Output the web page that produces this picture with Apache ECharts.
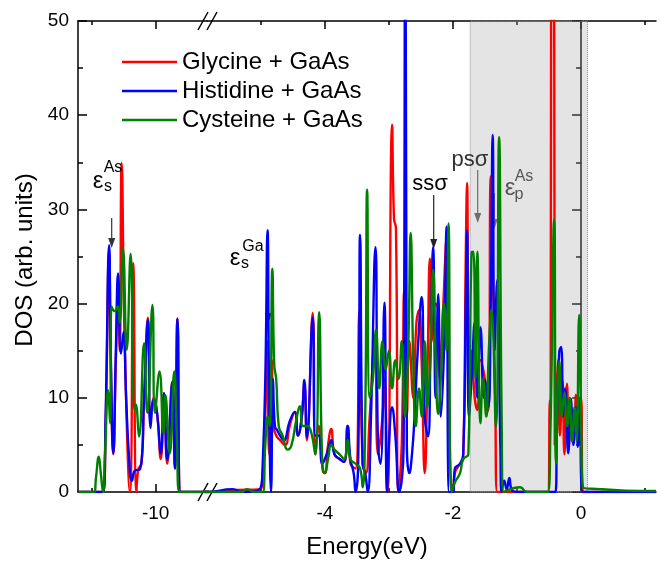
<!DOCTYPE html>
<html>
<head>
<meta charset="utf-8">
<script src="https://cdn.jsdelivr.net/npm/echarts@6/dist/echarts.min.js"></script>
<style>
  html, body { margin: 0; padding: 0; background: #fff; }
  #chart { width: 662px; height: 561px; }
</style>
</head>
<body>
<div id="chart"></div>
<script>
// DOS data (energy in eV, DOS in arb. units)
const seriesNames = ['Glycine + GaAs', 'Histidine + GaAs', 'Cysteine + GaAs']

const glycineE = [
  -11.2, -10.82, -10.78, -10.725, -10.70, -10.66, -10.62, -10.585, -10.56, -10.53, -10.48, -10.40, -10.35, -10.30,
  -10.27, -10.22, -10.18, -10.12, -10.08, -10.03, -9.98, -9.92, -9.87, -9.82, -9.74, -9.70, -9.66, -9.61, -9.2,
  -5.84, -5.44, -5.0, -4.97, -4.93, -4.90, -4.87, -4.83, -4.80, -4.76, -4.70, -4.62, -4.55, -4.47, -4.42, -4.36,
  -4.32, -4.28, -4.19, -4.145, -4.10, -4.03, -4.00, -3.95, -3.90, -3.85, -3.77, -3.70, -3.645, -3.60, -3.52, -3.46,
  -3.41, -3.36, -3.30, -3.22, -3.17, -3.10, -3.07, -3.02, -2.95, -2.92, -2.89, -2.85, -2.80, -2.76, -2.72, -2.68,
  -2.62, -2.57, -2.53, -2.49, -2.44, -2.40, -2.36, -2.33, -2.27, -2.23, -2.20, -2.15, -2.10, -2.06, -2.03, -2.0,
  -1.97, -1.89, -1.84, -1.80, -1.78, -1.75, -1.71, -1.66, -1.62, -1.57, -1.50, -1.45, -1.41, -1.38, -1.34, -1.31,
  -1.0, -0.52, -0.485, -0.475, -0.455, -0.43, -0.41, -0.36, -0.33, -0.29, -0.26, -0.22, -0.19, -0.15, -0.11, -0.08,
  -0.04, 0.0, 0.03, 1.17
]
const glycineDos = [
  0, 0, 7, 25.5, 14, 4, 14, 22, 15, 34.9, 15, 0, 24.3, 0,
  2.4, 3, 10, 18.5, 7.5, 10, 8.5, 3.5, 10.5, 3, 11.7, 2.5, 18.4, 0, 0,
  0, 0.2, 0.3, 2, 8, 16, 4, 14, 7, 6, 5.5, 5, 7, 8.5, 6, 8,
  11.5, 5.5, 19, 4, 7, 2.2, 2, 5, 6.7, 4, 3.5, 3.2, 7, 3, 2.5, 19.3,
  3, 2, 8, 16, 4, 8, 12, 0, 39.0, 29, 28, 0, 5, 21.5, 8, 16,
  10, 18, 19.3, 14, 2, 12, 24.8, 16, 20, 19.3, 12, 20, 27, 10, 0.5, 0,
  2, 3, 3.5, 25, 32.8, 10, 15, 10, 8.7, 14, 11.9, 8.6, 33.5, 25, 10, 0,
  0, 0, 9.8, 8, 100, 100, 5, 14, 6, 11.9, 4, 11.5, 5, 9, 7, 10.3,
  5, 10, 0, 0
]

const histidineE = [
  -11.2, -10.82, -10.78, -10.725, -10.70, -10.66, -10.62, -10.585, -10.54, -10.50, -10.46, -10.41, -10.37, -10.32,
  -10.245, -10.18, -10.12, -10.08, -10.03, -9.98, -9.92, -9.87, -9.82, -9.74, -9.70, -9.66, -9.61, -9.2,
  -5.84, -5.44, -5.3, -5.0, -4.97, -4.93, -4.895, -4.87, -4.84, -4.81, -4.78, -4.74, -4.70, -4.64, -4.55, -4.47,
  -4.42, -4.36, -4.32, -4.28, -4.19, -4.15, -4.10, -4.04, -4.00, -3.95, -3.90, -3.85, -3.77, -3.70, -3.645, -3.60,
  -3.55, -3.52, -3.48, -3.45, -3.41, -3.37, -3.33, -3.28, -3.21, -3.17, -3.13, -3.07, -3.03, -3.0, -2.95, -2.90,
  -2.84, -2.77, -2.745, -2.72, -2.68, -2.64, -2.60, -2.55, -2.49, -2.44, -2.39, -2.35, -2.31, -2.27, -2.23, -2.19,
  -2.14, -2.10, -2.06, -2.0, -1.97, -1.89, -1.84, -1.80, -1.78, -1.75, -1.71, -1.66, -1.62, -1.57, -1.52, -1.50,
  -1.45, -1.41, -1.38, -1.35, -1.31, -1.26, -1.24, -1.20, -1.16, -1.12, -1.08, -1.0, -0.40, -0.375, -0.34, -0.31,
  -0.28, -0.25, -0.20, -0.16, -0.12, -0.08, -0.05, -0.02, 0.02, 1.17
]
const histidineDos = [
  0, 0, 8, 26.2, 15, 4.1, 15, 23.2, 14.7, 17.0, 10, 3.2, 1.2, 2.3,
  2.4, 10, 18.3, 6.8, 9.8, 8.5, 4.1, 10.5, 3.4, 11.7, 2.5, 18.4, 0, 0,
  0, 0.3, 0, 0.5, 3, 12, 27.8, 10, 0, 12, 7, 6.5, 6, 5.5, 7.5, 8.5,
  6, 8, 11.9, 5.8, 18.5, 6, 6, 3, 3.5, 4.5, 5.5, 4, 3.5, 3.2, 7, 3.5,
  2, 0, 3, 27.3, 3, 2, 0, 8, 26.0, 5, 3, 20.1, 0, 5, 9, 6,
  0, 5, 70, 5, 2, 4, 8, 15, 20.7, 8, 5.9, 15, 26.0, 10, 21, 8,
  15, 28.2, 0, 0, 2.5, 3, 4, 20, 27.8, 8, 12, 18, 10, 17.5, 10, 11.9,
  9, 20, 37.9, 15, 22.5, 5, 0, 1.2, 0.3, 1.5, 0.2, 0, 0, 8, 14.9, 15.4,
  8, 11, 4.1, 9.9, 5, 9, 4.8, 10, 0, 0
]

const cysteineE = [
  -11.2, -10.96, -10.93, -10.886, -10.855, -10.82, -10.79, -10.74, -10.71, -10.69, -10.64, -10.59, -10.56, -10.51,
  -10.45, -10.39, -10.33, -10.31, -10.26, -10.18, -10.13, -10.05, -10.01, -9.94, -9.88, -9.85, -9.78, -9.71, -9.67,
  -9.63, -9.2,
  -5.84, -5.3, -5.22, -5.1, -4.97, -4.93, -4.89, -4.86, -4.82, -4.79, -4.76, -4.72, -4.66, -4.58, -4.52, -4.45,
  -4.39, -4.34, -4.28, -4.22, -4.15, -4.09, -4.04, -4.00, -3.95, -3.90, -3.85, -3.77, -3.70, -3.645, -3.60, -3.52,
  -3.45, -3.41, -3.37, -3.34, -3.30, -3.25, -3.20, -3.15, -3.10, -3.05, -3.00, -2.95, -2.90, -2.85, -2.80, -2.75,
  -2.70, -2.66, -2.62, -2.58, -2.53, -2.49, -2.44, -2.40, -2.36, -2.31, -2.27, -2.23, -2.19, -2.14, -2.10, -2.07,
  -2.02, -1.97, -1.89, -1.84, -1.76, -1.71, -1.68, -1.65, -1.62, -1.57, -1.53, -1.48, -1.44, -1.40, -1.33, -1.28,
  -1.24, -1.21, -0.95, -0.85, -0.52, -0.48, -0.42, -0.39, -0.34, -0.30, -0.26, -0.22, -0.18, -0.14, -0.10, -0.07,
  -0.03, 0.0, 0.03, 0.3, 0.7, 1.17
]
const cysteineDos = [
  0, 0, 1.5, 3.75, 2, 0, 4, 10.8, 7.3, 19.7, 19.2, 19.7, 18, 25.9,
  15.1, 25.3, 8.7, 9.3, 5.9, 15.8, 8.4, 19.85, 8.4, 12.8, 6.3, 10.3, 4.1, 12.8, 6,
  0, 0,
  0, 0, 0.3, 0, 0, 5, 8, 7, 23.7, 13.5, 12, 7, 6, 4.5, 5, 7.5,
  9.1, 7, 7, 6.5, 4, 19.1, 3, 2, 3.5, 5, 4.5, 4, 3.5, 5.5, 3.5, 3,
  2.5, 0.5, 8, 32.1, 10, 12, 17.2, 11, 16, 13, 15, 11, 14, 12, 16, 8,
  15, 27.5, 14, 7, 11, 8, 16, 9, 13, 23.6, 14, 8.3, 12, 20, 15, 28.5,
  0, 1, 2, 3.5, 4, 25.4, 25.5, 12, 25.5, 7.3, 12, 8, 15, 19.3, 6.9, 37.7,
  8, 0, 0.5, 0, 0, 6, 28.9, 3, 13.9, 8, 10.6, 7, 10, 5.4, 9, 5.4,
  18.8, 8, 0.5, 0.3, 0.15, 0.1
]

// axis ticks
const majorTicks = [-10, -4, -2, 0]
const minorTicks = [-11, -5, -3, -1, 1]
const shadedRange = [-1.73, 0.1]

const seriesE = [glycineE, histidineE, cysteineE]
const seriesDos = [glycineDos, histidineDos, cysteineDos]
const seriesColors = ['#ff0000', '#0000ff', '#008000']

const FONT = '"Liberation Sans", Arial, sans-serif'
const axisColor = '#000'

// two x ranges of the broken axis
const ranges = [[-11.21, -9.2], [-5.84, 1.17]]

function makeXAxes(gridIndex, min, max) {
  const inRange = v => v >= min && v <= max
  const major = majorTicks.filter(inRange)
  const minor = minorTicks.filter(inRange)
  const base = { type: 'value', gridIndex, min, max, splitLine: { show: false } }
  const line = { lineStyle: { color: axisColor, width: 1.5 } }
  return [
    {
      ...base, position: 'bottom', axisLine: line,
      axisTick: { inside: true, length: 8, customValues: major, ...line },
      axisLabel: { customValues: major, color: '#000', fontSize: 19, fontFamily: FONT, margin: 12 }
    },
    {
      ...base, position: 'bottom', axisLine: { show: false },
      axisTick: { inside: true, length: 4, customValues: minor, ...line },
      axisLabel: { show: false }
    },
    {
      ...base, position: 'top', axisLine: line,
      axisTick: { inside: true, length: 8, customValues: major, ...line },
      axisLabel: { show: false }
    },
    {
      ...base, position: 'top', axisLine: { show: false },
      axisTick: { inside: true, length: 4, customValues: minor, ...line },
      axisLabel: { show: false }
    }
  ]
}

function makeYAxis(gridIndex, position, showLabel) {
  return {
    type: 'value', gridIndex, position, min: 0, max: 50, interval: 10,
    axisLine: { show: true, lineStyle: { color: axisColor, width: 1.5 } },
    axisTick: { inside: true, length: 9, lineStyle: { color: axisColor, width: 1.5 } },
    minorTick: { show: true, splitNumber: 2, length: 5, lineStyle: { color: axisColor, width: 1.5 } },
    axisLabel: { show: showLabel, color: '#000', fontSize: 19, fontFamily: FONT, margin: 9 },
    splitLine: { show: false }
  }
}

const series = []
ranges.forEach((r, g) => {
  seriesNames.forEach((name, i) => {
    series.push({
      type: 'line',
      name,
      xAxisIndex: g * 4,
      yAxisIndex: g,
      data: seriesE[i].map((e, k) => [e, seriesDos[i][k]]),
      symbol: 'none',
      smooth: 0.5,
      z: 2 + i,
      lineStyle: { color: seriesColors[i], width: 2.4 },
      itemStyle: { color: seriesColors[i] }
    })
  })
})

// translucent grey band drawn on top of the curves
series.push({
  type: 'line',
  name: 'band',
  xAxisIndex: 4,
  yAxisIndex: 1,
  data: [[0, 0]],
  symbol: 'none',
  lineStyle: { opacity: 0 },
  z: 10,
  markArea: {
    silent: true,
    itemStyle: { color: 'rgba(165,165,165,0.3)', borderColor: '#8c8c8c', borderWidth: 1, borderType: 'dotted' },
    data: [[{ xAxis: shadedRange[0] }, { xAxis: shadedRange[1] }]]
  }
})

function arrow(x, y1, y2, color) {
  return {
    type: 'group', z: 100,
    children: [
      { type: 'line', shape: { x1: x, y1, x2: x, y2: y2 - 8 }, style: { stroke: color, lineWidth: 1.2 } },
      { type: 'polygon', shape: { points: [[x - 3.5, y2 - 10], [x + 3.5, y2 - 10], [x, y2]] }, style: { fill: color } }
    ]
  }
}

function label(text, x, y, size, color) {
  return {
    type: 'text', z: 100,
    style: { text, x, y, font: size + 'px ' + FONT, fill: color || '#000', align: 'center', verticalAlign: 'middle' }
  }
}

function breakMark(yAxisLine) {
  return {
    type: 'group', z: 100,
    children: [
      { type: 'polygon', shape: { points: [[199, yAxisLine + 8], [208, yAxisLine - 8], [216, yAxisLine - 8], [207, yAxisLine + 8]] }, style: { fill: '#fff' } },
      { type: 'line', shape: { x1: 198, y1: yAxisLine + 9, x2: 208, y2: yAxisLine - 9 }, style: { stroke: '#000', lineWidth: 1.5 } },
      { type: 'line', shape: { x1: 207, y1: yAxisLine + 9, x2: 217, y2: yAxisLine - 9 }, style: { stroke: '#000', lineWidth: 1.5 } }
    ]
  }
}

const chart = echarts.init(document.getElementById('chart'))

chart.setOption({
  animation: false,
  backgroundColor: '#fff',
  grid: [
    { left: 78, top: 21, width: 129, height: 471 },
    { left: 207, top: 21, width: 449, height: 471 }
  ],
  xAxis: [...makeXAxes(0, ranges[0][0], ranges[0][1]), ...makeXAxes(1, ranges[1][0], ranges[1][1])],
  yAxis: [makeYAxis(0, 'left', true), makeYAxis(1, 'right', false)],
  legend: {
    data: seriesNames,
    orient: 'vertical',
    left: 117,
    top: 45,
    icon: 'rect',
    itemWidth: 55,
    itemHeight: 2.5,
    itemGap: 5,
    textStyle: { fontSize: 24, color: '#000', fontFamily: FONT }
  },
  graphic: [
    breakMark(21),
    breakMark(492),
    label('Energy(eV)', 367, 547, 24),
    {
      type: 'text', z: 100, x: 25, y: 260, rotation: Math.PI / 2,
      style: { text: 'DOS (arb. units)', font: '24px ' + FONT, fill: '#000', align: 'center', verticalAlign: 'middle' }
    },
    // eps_s^As
    label('ε', 98, 181, 24), label('s', 108, 187, 16), label('As', 113, 168, 16),
    arrow(111.7, 218, 248, '#333'),
    // eps_s^Ga
    label('ε', 235, 258, 24), label('s', 245, 264, 16), label('Ga', 253, 247, 16),
    arrow(268.3, 262, 323, '#222'),
    // ss sigma
    label('ssσ', 430, 184, 22),
    arrow(433.7, 195, 249, '#222'),
    // ps sigma
    label('psσ', 470, 160, 22, '#333'),
    arrow(477.7, 170, 223, '#555'),
    // eps_p^As
    label('ε', 510, 188, 24, '#555'), label('p', 519, 195, 16, '#555'), label('As', 524, 177, 16, '#555'),
    arrow(494.3, 193, 229, '#555')
  ],
  series
})
</script>
</body>
</html>
